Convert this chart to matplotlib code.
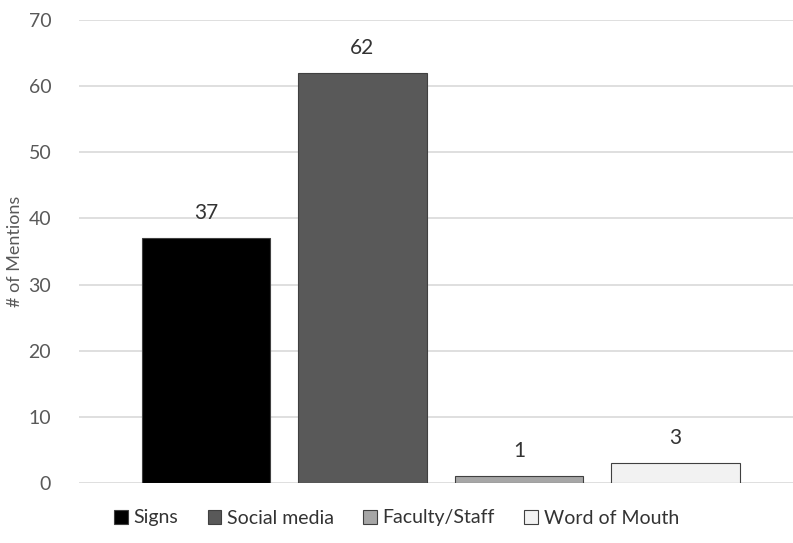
import numpy as np
import matplotlib
matplotlib.use('Agg')
import matplotlib.pyplot as plt
from matplotlib.patches import Patch

plt.rcParams['font.family'] = ['Lato', 'DejaVu Sans']

categories = ['Signs', 'Social media', 'Faculty/Staff', 'Word of Mouth']
mentions = [37, 62, 1, 3]
colors = ['#000000', '#595959', '#a6a6a6', '#f2f2f2']
yticks = [0, 10, 20, 30, 40, 50, 60, 70]

fig = plt.figure(figsize=(7.93, 5.43), dpi=100)
ax = fig.add_axes([79/793, 60/543, 1 - 79/793, 463/543])

x = np.arange(len(categories))
bars = ax.bar(x, mentions, width=0.82, color=colors, edgecolor='#404040', linewidth=0.8, zorder=3)
for xi, v in zip(x, mentions):
    ax.text(xi, v + 2.3, str(v), ha='center', va='bottom', fontsize=15, color='#333333')

ax.set_xlim(-0.81, 3.75)
ax.set_ylim(0, 70)
ax.set_yticks(yticks)
ax.set_xticks([])
ax.tick_params(axis='y', length=0, labelsize=14, labelcolor='#595959', pad=20)
ax.grid(axis='y', color='#d9d9d9', linewidth=1.2, zorder=0)
for s in ax.spines.values():
    s.set_visible(False)
ax.set_ylabel('# of Mentions', fontsize=13, color='#595959', labelpad=4)

handles = [Patch(facecolor=c, edgecolor='#404040', linewidth=0.8) for c in colors]
fig.legend(handles, categories, loc='center', bbox_to_anchor=(0.5, 25/543), ncol=4,
           frameon=False, fontsize=14, handlelength=0.7, handleheight=0.7,
           handletextpad=0.3, columnspacing=1.5, labelcolor='#333333')

fig.savefig('out.png', dpi=100)
